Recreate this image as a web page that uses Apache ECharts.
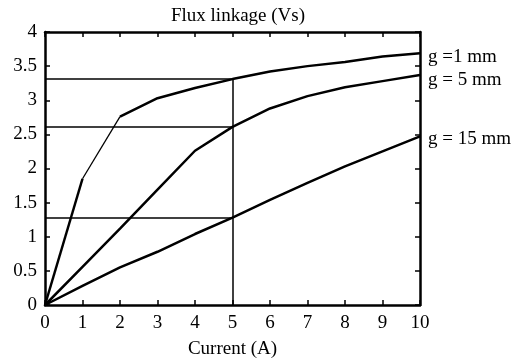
<!DOCTYPE html>
<html>
<head>
<meta charset="utf-8">
<script src="https://cdn.jsdelivr.net/npm/echarts@6/dist/echarts.min.js"></script>
<style>
  html, body { margin: 0; padding: 0; background: #fff; }
  #chart { width: 524px; height: 361px; }
</style>
</head>
<body>
<div id="chart"></div>
<script>
const current = [0, 1, 2, 3, 4, 5, 6, 7, 8, 9, 10];
const g1 = [0, 1.85, 2.76, 3.03, 3.18, 3.31, 3.42, 3.5, 3.56, 3.64, 3.69];
const g5 = [0, 0.56, 1.12, 1.69, 2.26, 2.61, 2.88, 3.06, 3.19, 3.28, 3.37];
const g15 = [0, 0.28, 0.55, 0.78, 1.04, 1.28, 1.54, 1.79, 2.03, 2.25, 2.47];
const seriesNames = ["g =1 mm", "g = 5 mm", "g = 15 mm"];
const guideX = 5;
const guideY = [3.31, 2.61, 1.28];

const font = "'Liberation Serif', 'DejaVu Serif', serif";
const fontSize = 19;
const black = "#000";

function pairs(xs, ys) {
  return xs.map((x, i) => [x, ys[i]]);
}

const chart = echarts.init(document.getElementById("chart"));

const tickStyle = { show: true, inside: true, length: 5, lineStyle: { color: black, width: 1.5 } };
const lineAxis = { show: true, onZero: false, lineStyle: { color: black, width: 2.5 } };

function endLabel(text, dy) {
  return {
    show: true,
    formatter: text,
    fontFamily: font,
    fontSize: fontSize,
    color: black,
    distance: 8,
    offset: [0, dy],
  };
}

const g1Pts = pairs(current, g1);

chart.setOption({
  backgroundColor: "#fff",
  animation: false,
  title: {
    text: "Flux linkage (Vs)",
    left: 233,
    textAlign: "center",
    top: 2,
    textStyle: { fontFamily: font, fontWeight: "normal", fontSize: fontSize, color: black },
  },
  grid: { left: 45, right: 104, top: 32, bottom: 56, outerBoundsMode: "none" },
  xAxis: [
    {
      type: "value",
      min: 0,
      max: 10,
      interval: 1,
      position: "bottom",
      name: "Current (A)",
      nameLocation: "middle",
      nameGap: 35,
      nameTextStyle: { fontFamily: font, fontSize: fontSize, color: black },
      axisLine: lineAxis,
      axisTick: tickStyle,
      axisLabel: { fontFamily: font, fontSize: fontSize, color: black, margin: 9 },
      splitLine: { show: false },
    },
    {
      type: "value",
      min: 0,
      max: 10,
      interval: 1,
      position: "top",
      axisLine: lineAxis,
      axisTick: tickStyle,
      axisLabel: { show: false },
      splitLine: { show: false },
    },
  ],
  yAxis: [
    {
      type: "value",
      min: 0,
      max: 4,
      interval: 0.5,
      position: "left",
      axisLine: lineAxis,
      axisTick: tickStyle,
      axisLabel: { fontFamily: font, fontSize: fontSize, color: black, margin: 8 },
      splitLine: { show: false },
    },
    {
      type: "value",
      min: 0,
      max: 4,
      interval: 0.5,
      position: "right",
      axisLine: lineAxis,
      axisTick: tickStyle,
      axisLabel: { show: false },
      splitLine: { show: false },
    },
  ],
  series: [
    {
      name: "guides",
      type: "line",
      data: [],
      silent: true,
      markLine: {
        symbol: "none",
        silent: true,
        label: { show: false },
        lineStyle: { color: black, width: 1.5, type: "solid" },
        data: guideY
          .map((y) => [{ coord: [0, y] }, { coord: [guideX, y] }])
          .concat([[{ coord: [guideX, 0] }, { coord: [guideX, guideY[0]] }]]),
      },
    },
    {
      name: seriesNames[0] + " a",
      type: "line",
      data: g1Pts.slice(0, 2),
      symbol: "none",
      lineStyle: { color: black, width: 2.5 },
    },
    {
      name: seriesNames[0] + " b",
      type: "line",
      data: g1Pts.slice(1, 3),
      symbol: "none",
      lineStyle: { color: black, width: 1.3 },
    },
    {
      name: seriesNames[0],
      type: "line",
      data: g1Pts.slice(2),
      symbol: "none",
      lineStyle: { color: black, width: 2.5 },
      endLabel: endLabel(seriesNames[0], 4),
    },
    {
      name: seriesNames[1],
      type: "line",
      data: pairs(current, g5),
      symbol: "none",
      lineStyle: { color: black, width: 2.5 },
      endLabel: endLabel(seriesNames[1], 5),
    },
    {
      name: seriesNames[2],
      type: "line",
      data: pairs(current, g15),
      symbol: "none",
      lineStyle: { color: black, width: 2.5 },
      endLabel: endLabel(seriesNames[2], 3),
    },
  ],
});
window.addEventListener("resize", function () { chart.resize(); });
</script>
</body>
</html>
